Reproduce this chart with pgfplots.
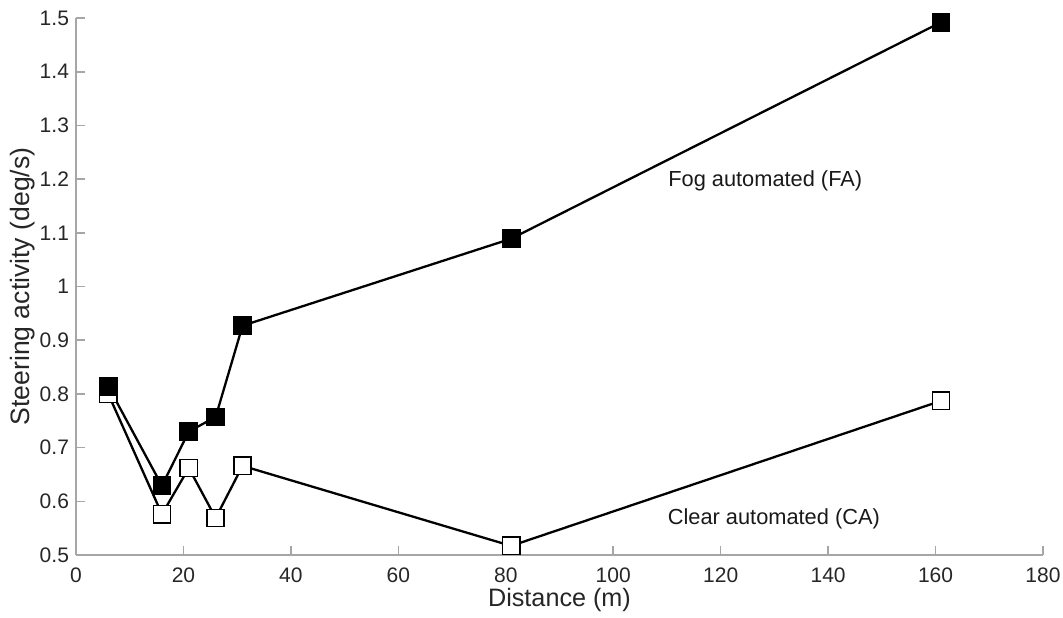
\documentclass[border=0pt]{standalone}
\usepackage{fontspec}
\setmainfont{Liberation Sans}
\usepackage{pgfplots}
\pgfplotsset{compat=1.18}
\begin{document}
\begin{tikzpicture}
\begin{axis}[
  scale only axis,
  width=483.5pt, height=268.5pt,
  xmin=0, xmax=180, ymin=0.5, ymax=1.5,
  xtick={0,20,...,180},
  ytick={0.5,0.6,...,1.5},
  yticklabels={0.5,0.6,0.7,0.8,0.9,1,1.1,1.2,1.3,1.4,1.5},
  axis lines*=left,
  axis line style={draw=gray!70, line width=0.8pt},
  tick style={draw=gray!70, line width=0.8pt},
  major tick length=4.5pt,
  tick align=inside,
  /pgf/number format/assume math mode=true,
  ticklabel style={font=\fontsize{10.5}{12}\selectfont, text=black!85},
  xticklabel style={yshift=-3pt},
  xlabel={Distance (m)},
  ylabel={Steering activity (deg/s)},
  xlabel style={font=\fontsize{12.6}{14}\selectfont, text=black!85,
    at={(axis description cs:0.5,-0.084)}, anchor=center},
  ylabel style={font=\fontsize{13.3}{15}\selectfont, text=black!85,
    at={(axis description cs:-0.0548,0.5)}, anchor=center, rotate=0},
  clip=false,
]
\addplot[black, line width=1.15pt, mark=square*, mark size=4.3pt,
  mark options={fill=white, draw=black, line width=0.8pt}] coordinates {
  (6,0.800) (16,0.576) (21,0.662) (26,0.569) (31,0.666) (81,0.517) (161,0.787)};
\addplot[black, line width=1.15pt, mark=square*, mark size=4.3pt,
  mark options={fill=black, draw=black, line width=0.8pt}] coordinates {
  (6,0.814) (16,0.629) (21,0.730) (26,0.757) (31,0.927) (81,1.089) (161,1.492)};
\node[font=\fontsize{10.9}{12}\selectfont, text=black!90] at (axis cs:128.3,1.196) {Fog automated (FA)};
\node[font=\fontsize{10.9}{12}\selectfont, text=black!90] at (axis cs:129.9,0.568) {Clear automated (CA)};
\end{axis}
\pgfresetboundingbox
\path ([shift={(-38pt,-31pt)}]current axis.south west) rectangle ([shift={(10pt,9pt)}]current axis.north east);
\end{tikzpicture}
\end{document}
